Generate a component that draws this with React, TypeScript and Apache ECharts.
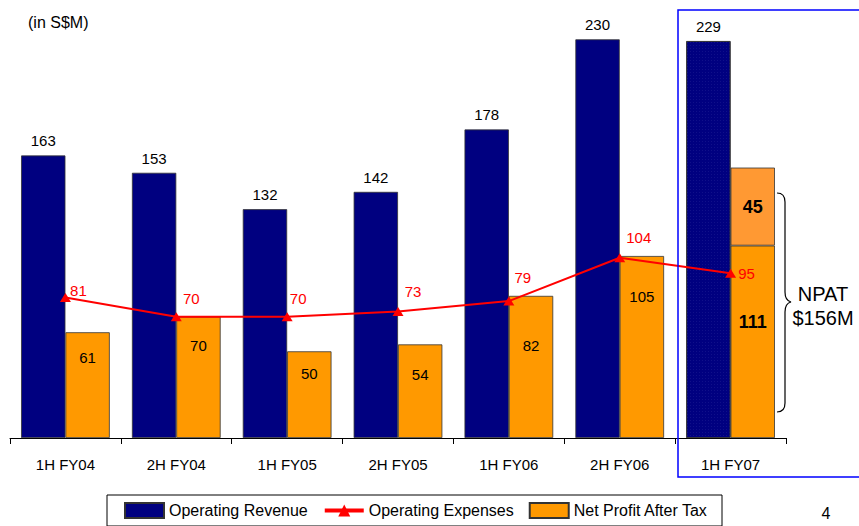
import React, { useEffect, useRef } from "react";
import * as echarts from "echarts";

const categories = ["1H FY04", "2H FY04", "1H FY05", "2H FY05", "1H FY06", "2H FY06", "1H FY07"];
const revenue = [163, 153, 132, 142, 178, 230, 229];
const expenses = [81, 70, 70, 73, 79, 104, 95];
const npat = [61, 70, 50, 54, 82, 105, 111];
const npatExtra = [null, null, null, null, null, null, 45];

// styling helpers (label placement, not data)
const npatLabelDy = [25, 29, 22, 30, 50, 40, 76];
const expenseLabelOffset = [
  [13, -7], [15, -18], [11, -18], [15, -20], [14, -24], [19, -20], [16, 0],
];

const FONT = "'Liberation Sans', Arial, Helvetica, sans-serif";

const bracePath =
  "M777,193 C782,193 785,196 785,202 L785,292 C785,298 787,301 791,302 C787,303 785,306 785,312 L785,403 C785,409 782,412 777,412";

echarts.graphic.registerShape("brace", echarts.graphic.extendPath(bracePath, {}));

export default function App() {
  const ref = useRef<HTMLDivElement>(null);
  useEffect(() => {
    if (!ref.current) return;
    const chart = echarts.init(ref.current, null, { renderer: "svg" });
    const last = categories.length - 1;
    const revenueData = revenue.map((v, i) =>
      i === last
        ? {
            value: v,
            itemStyle: {
              decal: {
                symbol: "rect",
                symbolSize: 0.5,
                dashArrayX: [1, 2],
                dashArrayY: [1, 2],
                color: "rgba(110,110,200,0.55)",
              },
            },
          }
        : v
    );
    const npatData = npat.map((v, i) => ({
      value: v,
      label:
        i === last
          ? { position: ["50%", npatLabelDy[i]], fontWeight: "bold", fontSize: 18 }
          : { position: ["50%", npatLabelDy[i]] },
    }));
    const expenseData = expenses.map((v, i) => ({
      value: v,
      label: { offset: expenseLabelOffset[i] },
    }));

    const option: any = {
      animation: false,
      textStyle: { fontFamily: FONT },
      grid: { left: 10, right: 73, top: 22, bottom: 88 },
      xAxis: {
        type: "category",
        data: categories,
        axisLine: { lineStyle: { color: "#000", width: 1 } },
        axisTick: { show: true, length: 6, lineStyle: { color: "#000" } },
        axisLabel: { color: "#000", fontSize: 15, margin: 19, fontFamily: FONT },
        splitLine: { show: false },
      },
      yAxis: { type: "value", min: 0, max: 240, show: false },
      legend: {
        left: 107,
        top: 495,
        itemWidth: 39,
        itemHeight: 15,
        itemGap: 15,
        padding: [7, 14, 7, 17],
        borderColor: "#000",
        borderWidth: 1,
        selectedMode: false,
        textStyle: { fontSize: 16, color: "#000", fontFamily: FONT },
        data: [
          { name: "Operating Revenue", icon: "rect" },
          { name: "Operating Expenses", lineStyle: { width: 4 } },
          { name: "Net Profit After Tax", icon: "rect" },
        ],
      },
      series: [
        {
          type: "bar",
          name: "Operating Revenue",
          data: revenueData,
          barGap: "0%",
          barCategoryGap: "20%",
          itemStyle: { color: "#000080", borderColor: "#333", borderWidth: 0.8 },
          label: {
            show: true,
            position: "top",
            distance: 7,
            color: "#000",
            fontSize: 15,
            fontFamily: FONT,
          },
        },
        {
          type: "bar",
          name: "Net Profit After Tax",
          stack: "npat",
          data: npatData,
          itemStyle: { color: "#FF9900", borderColor: "#333", borderWidth: 0.8 },
          label: {
            show: true,
            color: "#000",
            fontSize: 15,
            align: "center",
            verticalAlign: "middle",
            fontFamily: FONT,
          },
        },
        {
          type: "bar",
          name: "NPAT addition",
          stack: "npat",
          data: npatExtra,
          itemStyle: { color: "#FF9933", borderColor: "#333", borderWidth: 0.8 },
          label: {
            show: true,
            position: "inside",
            color: "#000",
            fontSize: 18,
            fontWeight: "bold",
            fontFamily: FONT,
          },
        },
        {
          type: "line",
          name: "Operating Expenses",
          data: expenseData,
          symbol: "triangle",
          symbolSize: [11, 9],
          z: 5,
          lineStyle: { color: "#FF0000", width: 2 },
          itemStyle: { color: "#FF0000" },
          label: {
            show: true,
            position: "inside",
            color: "#FF0000",
            fontSize: 15,
            fontFamily: FONT,
          },
        },
      ],
      graphic: [
        {
          type: "text",
          x: 28,
          y: 22,
          style: {
            text: "(in S$M)",
            font: `16px ${FONT}`,
            fill: "#000",
            align: "left",
            verticalAlign: "middle",
            textAlign: "left",
            textVerticalAlign: "middle",
          },
        },
        {
          type: "rect",
          shape: { x: 678, y: 10, width: 184, height: 467 },
          style: { fill: "none", stroke: "#0000FF", lineWidth: 1.5 },
          z: 10,
        },
        {
          type: "brace",
          x: 0,
          y: 0,
          style: { fill: "none", stroke: "#000", lineWidth: 1.2 },
        },
        {
          type: "text",
          x: 823,
          y: 294,
          style: {
            text: "NPAT",
            font: `20px ${FONT}`,
            fill: "#000",
            align: "center",
            verticalAlign: "middle",
            textAlign: "center",
            textVerticalAlign: "middle",
          },
        },
        {
          type: "text",
          x: 823,
          y: 318,
          style: {
            text: "$156M",
            font: `20px ${FONT}`,
            fill: "#000",
            align: "center",
            verticalAlign: "middle",
            textAlign: "center",
            textVerticalAlign: "middle",
          },
        },
        {
          type: "text",
          x: 826,
          y: 513,
          style: {
            text: "4",
            font: `16px ${FONT}`,
            fill: "#000",
            align: "center",
            verticalAlign: "middle",
            textAlign: "center",
            textVerticalAlign: "middle",
          },
        },
      ],
    };
    chart.setOption(option);
    return () => chart.dispose();
  }, []);
  return (
    <div
      ref={ref}
      style={{ position: "fixed", left: 0, top: 0, width: 859, height: 526, background: "#fff" }}
    />
  );
}
